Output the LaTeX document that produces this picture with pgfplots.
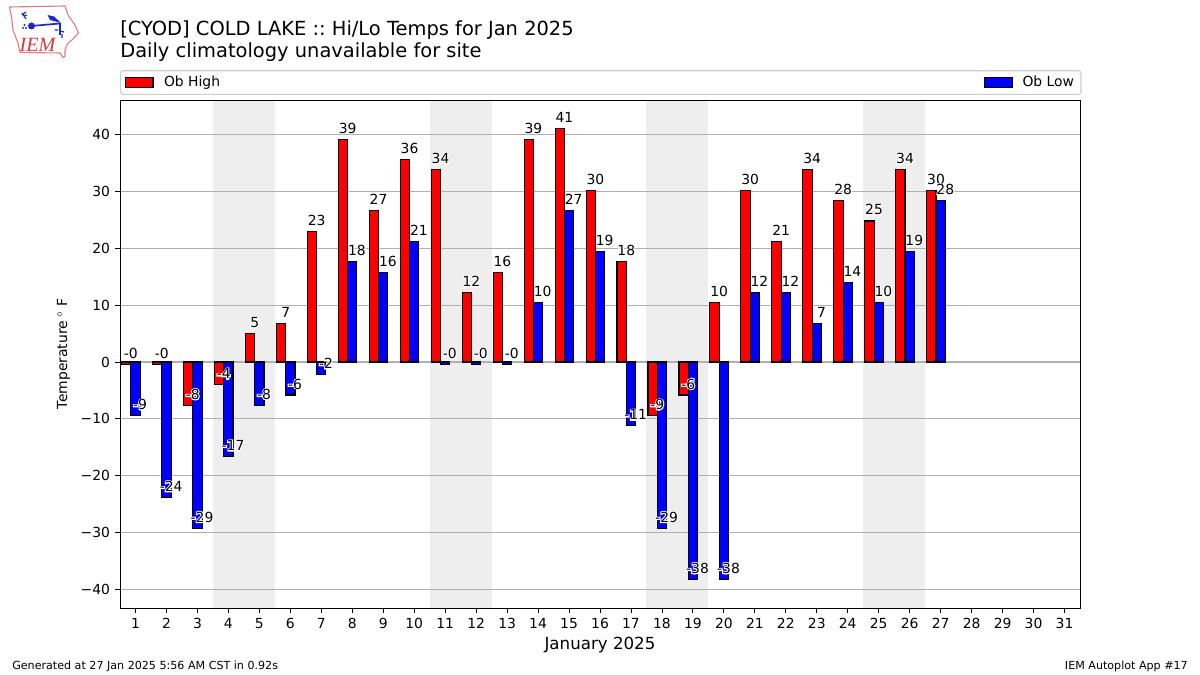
\documentclass[border=0pt]{standalone}
\usepackage{fontspec}
\setmainfont{DejaVu Sans}
\newfontfamily\logofont{Liberation Serif}
\newfontfamily\halofont[FakeBold=15]{DejaVu Sans}
\usepackage{pgfplots}
\usepackage{pgfplotstable}
\pgfplotsset{compat=1.18}

% 1 px of the reference = 0.72bp, so matplotlib points = bp here
\pgfplotstableread{
day high hl low ll
1  -0.4 -0  -9.4  -9
2  -0.4 -0  -23.8 -24
3  -7.6 -8  -29.2 -29
4  -4.0 -4  -16.6 -17
5   5.0 5   -7.6  -8
6   6.8 7   -5.8  -6
7  23.0 23  -2.2  -2
8  39.2 39  17.6  18
9  26.6 27  15.8  16
10 35.6 36  21.2  21
11 33.8 34  -0.4  -0
12 12.2 12  -0.4  -0
13 15.8 16  -0.4  -0
14 39.2 39  10.4  10
15 41.0 41  26.6  27
16 30.2 30  19.4  19
17 17.6 18  -11.2 -11
18 -9.4 -9  -29.2 -29
19 -5.8 -6  -38.2 -38
20 10.4 10  -38.2 -38
21 30.2 30  12.2  12
22 21.2 21  12.2  12
23 33.8 34  6.8   7
24 28.4 28  14.0  14
25 24.8 25  10.4  10
26 33.8 34  19.4  19
27 30.2 30  28.4  28
}\temps

\definecolor{gridgray}{HTML}{B0B0B0}
\definecolor{wkend}{HTML}{EEEEEE}
\definecolor{legedge}{HTML}{CCCCCC}
\definecolor{logored}{HTML}{D8383C}
\definecolor{logoline}{HTML}{E07C80}
\definecolor{logoblue}{HTML}{1C28C8}

% white outline round the value labels
\newcommand{\halo}[1]{\rlap{\textcolor{white}{\halofont #1}}#1}

\pgfplotsset{
  layers/chart/.define layer set={axis background,main,axis grid,axis ticks,axis lines,axis tick labels,labels,axis descriptions,axis foreground}{},
  set layers=chart,
  vallabel/.style={
    forget plot, draw=none, mark=none, on layer=labels,
    point meta=explicit symbolic,
    nodes near coords={\halo{\pgfplotspointmeta}},
    every node near coord/.append style={anchor=base, inner sep=0pt, yshift=4.3bp, font=\fontsize{10bp}{12bp}\selectfont, text=black},
  },
}

\begin{document}
\frenchspacing
\begin{tikzpicture}
\begin{axis}[
  at={(86.4bp,48.24bp)}, anchor=south west,
  scale only axis, width=691.2bp, height=365.76bp,
  xmin=0.5, xmax=31.5, ymin=-43.25, ymax=46.07,
  clip=false,
  axis line style={black, line width=0.6bp},
  tick style={black, line width=0.6bp},
  major tick length=3.5bp,
  tick align=outside, xtick pos=bottom, ytick pos=left,
  xtick={1,2,...,31},
  ytick={-40,-30,-20,-10,0,10,20,30,40},
  yticklabels={−40,−30,−20,−10,0,10,20,30,40},
  /pgf/number format/assume math mode=true,
  tick label style={font=\fontsize{10bp}{12bp}\selectfont},
  every tick label/.append style={inner sep=0pt},
  xticklabel style={yshift=-3.5bp},
  yticklabel style={xshift=-3.5bp},
  ymajorgrids, grid style={gridgray, line width=0.8bp},
  xlabel={January 2025},
  xlabel style={font=\fontsize{12bp}{14bp}\selectfont, at={(0.5,0)}, anchor=base, yshift=-29.7bp, inner sep=0pt},
  ylabel={Temperature\;$^\circ$\;F},
  ylabel style={font=\fontsize{10bp}{12bp}\selectfont, at={(0,0.5)}, anchor=base, yshift=38bp, inner sep=0pt},
  title={[CYOD] COLD LAKE :: Hi/Lo Temps for Jan 2025\\Daily climatology unavailable for site},
  title style={at={(0,1)}, anchor=base west, align=left, inner sep=0pt, yshift=24.5bp,
    font=\fontsize{14bp}{16bp}\selectfont},
  legend style={at={(0,1)}, anchor=south west, yshift=3.6bp, draw=legedge, line width=0.8bp,
    rounded corners=2bp, legend columns=2, font=\fontsize{10bp}{12.5bp}\selectfont,
    /tikz/column 1/.style={column sep=5.5bp},
    /tikz/column 2/.style={column sep=548bp},
    /tikz/column 3/.style={column sep=5bp}},
  legend cell align=left,
  legend image code/.code={\draw[#1,sharp corners,line width=0.8bp] (0bp,-3.5bp) rectangle (20bp,3.5bp);},
]
\begin{pgfonlayer}{axis background}
  \fill[wkend] (axis cs:3.5,-43.25) rectangle (axis cs:5.5,46.07);
  \fill[wkend] (axis cs:10.5,-43.25) rectangle (axis cs:12.5,46.07);
  \fill[wkend] (axis cs:17.5,-43.25) rectangle (axis cs:19.5,46.07);
  \fill[wkend] (axis cs:24.5,-43.25) rectangle (axis cs:26.5,46.07);
\end{pgfonlayer}
\addplot[ybar, bar width=6.69bp, bar shift=-6.69bp, fill=red, draw=black, line width=0.8bp] table[x=day,y=high] {\temps};
\addlegendentry{Ob High}
\addplot[ybar, bar width=6.69bp, bar shift=0bp, fill=blue, draw=black, line width=0.8bp] table[x=day,y=low] {\temps};
\addlegendentry{Ob Low}
\addplot[vallabel] table[x expr=\thisrow{day}-0.15,y=high,meta=hl] {\temps};
\addplot[vallabel] table[x expr=\thisrow{day}+0.15,y=low,meta=ll] {\temps};
\end{axis}

% footer and logo, in reference pixels (origin top left)
\begin{scope}[shift={(0bp,486bp)}, x=0.72bp, y=-0.72bp]
  \node[anchor=base west, inner sep=0pt, font=\fontsize{8bp}{10bp}\selectfont] at (12,670) {Generated at 27 Jan 2025 5:56 AM CST in 0.92s};
  \node[anchor=base east, inner sep=0pt, font=\fontsize{8bp}{10bp}\selectfont] at (1188,670) {IEM Autoplot App \#17};
  \draw[logoline, line width=0.8bp, line join=round]
    (9.5,7) -- (65,6) -- (68,15) -- (75,25) -- (78.5,33) -- (72,40) -- (68,43) -- (65,50) -- (65,56.5) -- (63,57.5) -- (60,53) -- (20,52.5) -- (18,43) -- (13,30) -- (11.5,17) -- cycle;
  \draw[logoblue, line width=1.2bp] (31,26) -- (60,23.5);
  \fill[logoblue] (31.5,26) circle (3.5);
  \fill[logoblue] (47.5,15) -- (54,16.5) -- (61,23) -- (50,20) -- cycle;
  \draw[logoblue, line width=0.9bp] (60,23.5) -- (60,35);
  \draw[logoblue, line width=0.9bp] (55,30) -- (58,30) (60,31) -- (64,32) (62,34) -- (62,38);
  \draw[logoblue, line width=0.8bp] (26,19) -- (22,13) (22,15) -- (26,12) (24,16) -- (27,15);
  \fill[logoblue] (23,28) circle (1.1) (26,28) circle (1.1) (24.5,25) circle (1.1);
  \node[anchor=base, inner sep=0pt, text=logored, font=\logofont\itshape\fontsize{14.5bp}{16bp}\selectfont] at (37.5,51.5) {IEM};
\end{scope}
\pgfresetboundingbox
\useasboundingbox (0,0) rectangle (864bp,486bp);
\end{tikzpicture}
\end{document}
